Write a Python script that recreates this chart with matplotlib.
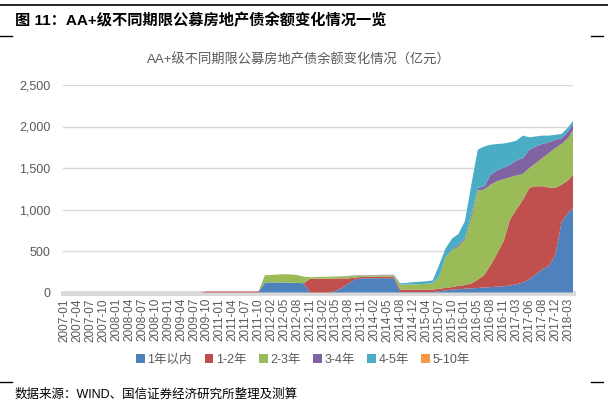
import matplotlib
matplotlib.use("Agg")
import matplotlib.pyplot as plt
import numpy as np
from matplotlib.lines import Line2D
from matplotlib.ticker import FuncFormatter

plt.rcParams['font.family'] = ['Liberation Sans', 'Noto Sans CJK SC', 'DejaVu Sans']

tick_labels = ["2007-01", "2007-04", "2007-07", "2007-10", "2008-01", "2008-04", "2008-07", "2008-10",
               "2009-01", "2009-04", "2009-07", "2009-10", "2011-01", "2011-04", "2011-07", "2011-10",
               "2012-02", "2012-05", "2012-08", "2012-11", "2013-02", "2013-05", "2013-08", "2013-11",
               "2014-02", "2014-05", "2014-08", "2014-12", "2015-04", "2015-07", "2015-10", "2016-01",
               "2016-05", "2016-08", "2016-11", "2017-03", "2017-06", "2017-08", "2017-12", "2018-03"]

series_names = ["1年以内", "1-2年", "2-3年", "3-4年", "4-5年", "5-10年"]

# values sampled twice per tick-label interval (亿元)
y1 = [0]*31 + [122, 122, 122, 120, 118, 115, 112,
               0, 0, 0, 0,
               20, 60, 110, 160, 170, 170, 172, 172, 172, 172,
               5, 5, 5, 5, 5, 5,
               15, 25, 35, 40, 45, 50, 55, 60, 65, 70, 75, 85, 100, 120, 160, 220, 280, 320, 450, 850, 960, 1030]
y1_2 = [0]*22 + [12]*9 + [0]*7 + [163, 165, 165, 165, 150, 110, 60, 20, 18, 18, 18, 18, 18, 18,
                                   30, 30, 30, 30, 30, 30, 30, 30, 30, 40,
                                   45, 60, 100, 150, 265, 400, 545, 795, 900, 1000, 1100, 1060, 1000, 945, 810, 450, 390, 415]
y2_3 = [0]*31 + [85, 90, 95, 100, 100, 95, 80,
                 20, 22, 24, 25, 23, 25, 25, 20, 15, 15, 15, 18, 18, 18,
                 60, 60, 65, 65, 70, 75,
                 145, 365, 445, 475, 550, 790, 1075, 1030, 970, 870, 745, 510, 410, 310, 240, 280, 340, 415, 480, 490, 510, 545]
y3_4 = [0]*44 + [5]*8 + [0]*6 + [0, 10, 10, 20, 20, 40, 30, 40, 120, 130, 140, 150, 180, 190, 220, 200, 170, 130, 100, 70, 80, 60]
y4_5 = [0]*52 + [15, 20, 25, 30, 30, 35,
                 140, 100, 130, 130, 200, 360, 460, 480, 360, 320, 290, 270, 240, 270, 150, 120, 100, 80, 60, 50, 50, 40]
y5_10 = [0]*80

colors = ['#4f81bd', '#c0504d', '#9bbb59', '#8064a2', '#4bacc6', '#f79646']

fig = plt.figure(figsize=(6.08, 4.05), dpi=100)
ax = fig.add_axes([63/608, 1 - 292.5/405, (573-63)/608, (292.5-85)/405])

x = np.arange(len(y1)) / 2.0
ax.stackplot(x, y1, y1_2, y2_3, y3_4, y4_5, y5_10, colors=colors, labels=series_names,
             linewidth=0, zorder=2)

ax.set_xlim(-0.15, 39.38)
ax.set_ylim(0, 2500)
ax.set_yticks(np.arange(0, 2501, 500))
ax.yaxis.set_major_formatter(FuncFormatter(lambda v, p: f"{int(v):,}"))
ax.set_xticks(np.arange(len(tick_labels)))
ax.set_xticklabels(tick_labels, rotation=90, fontsize=8.5, color='#595959')
ax.tick_params(axis='y', length=0, pad=9, labelsize=9, labelcolor='#595959')
ax.tick_params(axis='x', length=0, pad=4)
ax.grid(axis='y', color='#d9d9d9', linewidth=1, zorder=0)
ax.set_axisbelow(True)
for s in ['top', 'right', 'left']:
    ax.spines[s].set_visible(False)
ax.spines['bottom'].set_color('#d9d9d9')
ax.spines['bottom'].set_linewidth(3.5)
ax.spines['bottom'].set_zorder(1)

leg = ax.legend(loc='center', bbox_to_anchor=(303/608, 1 - 360/405), bbox_transform=fig.transFigure,
                ncol=6, frameon=False, fontsize=9, handlelength=0.7, handleheight=0.7,
                handletextpad=0.2, columnspacing=1.0, labelcolor='#595959')

fig.text(15/608, 1 - 20/405, "图 11：AA+级不同期限公募房地产债余额变化情况一览", fontsize=11,
         fontweight='bold', ha='left', va='center', color='black')
fig.text(299/608, 1 - 60/405, "AA+级不同期限公募房地产债余额变化情况（亿元）", fontsize=9.5,
         ha='center', va='center', color='#595959')
fig.text(15/608, 1 - 395/405, "数据来源：WIND、国信证券经济研究所整理及测算", fontsize=9,
         ha='left', va='center', color='black')

fig.add_artist(Line2D([0, 1], [1 - 5/405, 1 - 5/405], transform=fig.transFigure, color='black', lw=1.2))
for yy in [36, 382]:
    fig.add_artist(Line2D([0, 12/608], [1 - yy/405]*2, transform=fig.transFigure, color='black', lw=1))
    fig.add_artist(Line2D([591/608, 603/608], [1 - yy/405]*2, transform=fig.transFigure, color='black', lw=1))

fig.savefig("out.png", dpi=100)
